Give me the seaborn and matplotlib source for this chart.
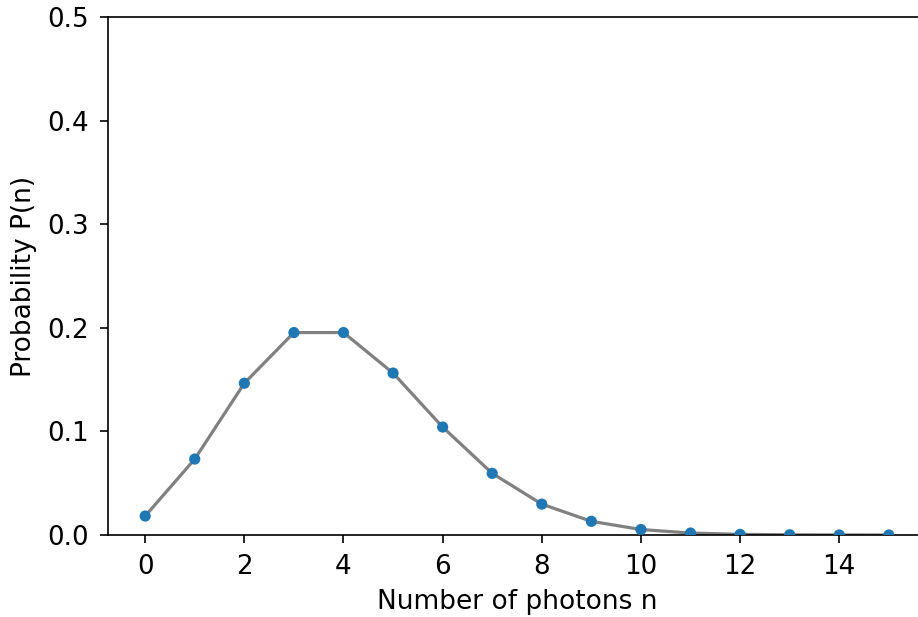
import matplotlib
matplotlib.use("Agg")
import matplotlib.pyplot as plt
import seaborn as sns
import pandas as pd

n_photons = [0, 1, 2, 3, 4, 5, 6, 7, 8, 9, 10, 11, 12, 13, 14, 15]
probability = [0.0183, 0.0733, 0.1465, 0.1954, 0.1954, 0.1563, 0.1042, 0.0595,
               0.0298, 0.0132, 0.0053, 0.0019, 0.0006, 0.0002, 0.00005, 0.00001]
x_ticks = [0, 2, 4, 6, 8, 10, 12, 14]
y_ticks = [0.0, 0.1, 0.2, 0.3, 0.4, 0.5]

sns.set_style("ticks")
plt.rcParams['font.family'] = ['DejaVu Sans']
plt.rcParams['text.color'] = 'black'
plt.rcParams['axes.labelcolor'] = 'black'

df = pd.DataFrame({"n": n_photons, "p": probability})

W, H = 918, 617
fig = plt.figure(figsize=(W / 100, H / 100), dpi=100)
ax = fig.add_axes([108 / W, (H - 535) / H, (926 - 108) / W, (535 - 17) / H])

sns.lineplot(data=df, x="n", y="p", ax=ax, color="gray", linewidth=2.3, zorder=2)
sns.scatterplot(data=df, x="n", y="p", ax=ax, color="#1f77b4", s=65,
                edgecolor="none", zorder=3)

ax.set_xlim(-0.75, 15.75)
ax.set_ylim(0, 0.5)
ax.set_xticks(x_ticks)
ax.set_yticks(y_ticks)
ax.set_yticklabels([f"{v:.1f}" for v in y_ticks])
ax.set_xlabel("Number of photons n", fontsize=19, color="black", labelpad=6.5)
ax.set_ylabel("Probability P(n)", fontsize=19, color="black", labelpad=7.5)
ax.tick_params(labelsize=18.8, length=5.5, width=1.2, pad=8, colors="black")
for s in ax.spines.values():
    s.set_linewidth(1.2)
    s.set_color("black")

fig.savefig("out.png", dpi=100)
